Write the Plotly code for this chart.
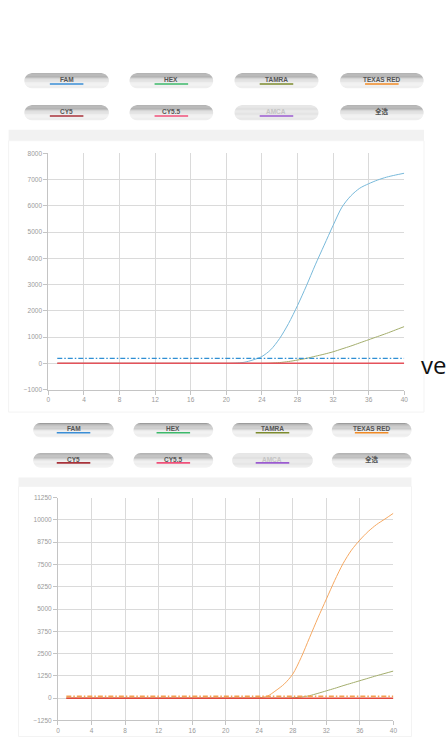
import math
import plotly.graph_objects as go

W, H = 448, 740

# ---------------- data ----------------
cycles = list(range(1, 41))

# upper chart
fam_top = [0, 0, 0, 0, 0, 0, 0, 0, 0, 0, 0, 0, 0, 0, 0, 0, 0, 0, 0, 0,
           10, 40, 130, 260, 520, 950, 1520, 2200, 2950, 3750,
           4500, 5250, 5950, 6380, 6670, 6840, 6980, 7090, 7170, 7240]
tamra_top = [0, 0, 0, 0, 0, 0, 0, 0, 0, 0, 0, 0, 0, 0, 0, 0, 0, 0, 0, 0,
             0, 0, 0, 0, 10, 30, 70, 125, 190, 270,
             350, 440, 550, 660, 780, 900, 1020, 1140, 1270, 1400]
cy5_top = [0, 0, 0, 0, 0, 0, 0, 0, 0, 0, 0, 0, 0, 0, 0, 0, 0, 0, 0, 0,
           0, 0, 0, 0, 0, 0, 0, 0, 0, 0, 0, 0, 0, 0, 0, 0, 0, 0, 0, 0]
thr_x = [1, 40]
thr_top = [190, 190]

# lower chart
texas_bot = [0, 0, 0, 0, 0, 0, 0, 0, 0, 0, 0, 0, 0, 0, 0, 0, 0, 0, 0, 0,
             0, 0, 0, 20, 120, 430, 800, 1350, 2280, 3390,
             4500, 5550, 6600, 7550, 8300, 8870, 9350, 9740, 10050, 10370]
tamra_bot = [0, 0, 0, 0, 0, 0, 0, 0, 0, 0, 0, 0, 0, 0, 0, 0, 0, 0, 0, 0,
             0, 0, 0, 0, 0, 0, 0, 20, 60, 140,
             270, 410, 550, 700, 840, 980, 1120, 1260, 1390, 1520]
cy5_bot = [0, 0, 0, 0, 0, 0, 0, 0, 0, 0, 0, 0, 0, 0, 0, 0, 0, 0, 0, 0,
           0, 0, 0, 0, 0, 0, 0, 0, 0, 0, 0, 0, 0, 0, 0, 0, 0, 0, 0, 0]
thr_bot = [100, 100]

x_ticks = [0, 4, 8, 12, 16, 20, 24, 28, 32, 36, 40]
y_ticks_top = [-1000, 0, 1000, 2000, 3000, 4000, 5000, 6000, 7000, 8000]
y_ticks_bot = [-1250, 0, 1250, 2500, 3750, 5000, 6250, 7500, 8750, 10000, 11250]

channels = ["FAM", "HEX", "TAMRA", "TEXAS RED", "CY5", "CY5.5", "AMCA", "全选"]
channel_colors = ["#3a8ed6", "#3cb96a", "#7d8b2e", "#f08a24",
                  "#a8323a", "#f0507a", "#9b5bd0", None]

# ---------------- helpers ----------------
def px(x):
    return x / W


def py(y):
    return 1 - y / H


shapes = []
annotations = []


def pill(x0, x1, y0, y1, disabled=False, n=12):
    r = (y1 - y0) / 2
    cy = (y0 + y1) / 2
    for i in range(n):
        ya = y0 + (y1 - y0) * i / n
        yb = y0 + (y1 - y0) * (i + 1) / n
        t = (i + 0.5) / n
        if disabled:
            g = int(222 + 12 * t)
        else:
            g = int(150 + (238 - 150) * min(1.0, t / 0.6))
        col = f"rgb({g},{g},{g})"
        pts = []
        for k in range(5):
            y = ya + (yb - ya) * k / 4
            d = math.sqrt(max(0.0, r * r - (y - cy) ** 2))
            pts.append((x0 + r - d, y))
        for k in range(5):
            y = yb - (yb - ya) * k / 4
            d = math.sqrt(max(0.0, r * r - (y - cy) ** 2))
            pts.append((x1 - r + d, y))
        path = "M " + " L ".join(f"{px(a):.5f},{py(b):.5f}" for a, b in pts) + " Z"
        shapes.append(dict(type="path", path=path, xref="paper", yref="paper",
                           fillcolor=col, line=dict(width=0), layer="below"))


def button_block(cols, rows, text_dy, line_dy):
    idx = 0
    for (ry0, ry1) in rows:
        for (cx0, cx1) in cols:
            name = channels[idx]
            color = channel_colors[idx]
            disabled = name == "AMCA"
            pill(cx0, cx1, ry0, ry1, disabled)
            cx = (cx0 + cx1) / 2
            annotations.append(dict(
                x=px(cx), y=py(ry0 + text_dy), xref="paper", yref="paper",
                text=f"<b>{name}</b>", showarrow=False, xanchor="center", yanchor="middle",
                font=dict(size=6.5, color="#c4c4c4" if disabled else "#555555",
                          family="Liberation Sans, Noto Sans CJK SC")))
            if color:
                shapes.append(dict(type="line", xref="paper", yref="paper",
                                   x0=px(cx - 17), x1=px(cx + 17),
                                   y0=py(ry0 + line_dy), y1=py(ry0 + line_dy),
                                   line=dict(color=color, width=1.6)))
            idx += 1


# first button block
button_block(cols=[(22.7, 108.3), (129.3, 214.0), (235.7, 320.7), (342.7, 427.3)],
             rows=[(70.0, 85.0), (102.3, 117.3)], text_dy=6.5, line_dy=10.7)
# second button block
button_block(cols=[(31.7, 113.3), (133.3, 214.0), (233.3, 315.0), (334.3, 415.0)],
             rows=[(423.0, 437.5), (453.5, 468.0)], text_dy=6.0, line_dy=9.8)

# gray bands and cards
shapes.append(dict(type="rect", xref="paper", yref="paper", x0=px(6.7), x1=px(427.7),
                   y0=py(138), y1=py(127), fillcolor="#f2f2f2", line=dict(width=0), layer="below"))
shapes.append(dict(type="rect", xref="paper", yref="paper", x0=px(6.7), x1=px(427.7),
                   y0=py(412), y1=py(138), fillcolor="#ffffff",
                   line=dict(color="#f3f3f3", width=1), layer="below"))
shapes.append(dict(type="rect", xref="paper", yref="paper", x0=px(16.7), x1=px(415),
                   y0=py(487), y1=py(478), fillcolor="#f2f2f2", line=dict(width=0), layer="below"))
shapes.append(dict(type="rect", xref="paper", yref="paper", x0=px(16.7), x1=px(415),
                   y0=py(739.5), y1=py(487), fillcolor="#ffffff",
                   line=dict(color="#f3f3f3", width=1), layer="below"))

annotations.append(dict(x=px(423), y=py(364), xref="paper", yref="paper", text="ve",
                        showarrow=False, xanchor="left", yanchor="middle",
                        font=dict(size=24, color="#111111", family="Open Sans")))

# ---------------- traces ----------------
fig = go.Figure()
sp = dict(shape="spline", smoothing=0.8)

# upper chart
fig.add_trace(go.Scatter(x=cycles, y=fam_top, mode="lines", xaxis="x", yaxis="y",
                         line=dict(color="#78b9da", width=1, **sp), name="FAM"))
fig.add_trace(go.Scatter(x=cycles, y=tamra_top, mode="lines", xaxis="x", yaxis="y",
                         line=dict(color="#a3ad6c", width=1, **sp), name="TAMRA"))
fig.add_trace(go.Scatter(x=thr_x, y=thr_top, mode="lines", xaxis="x", yaxis="y",
                         line=dict(color="#2f8fd4", width=1.3, dash="5px,2px,1.5px,2px"),
                         name="FAM threshold"))
fig.add_trace(go.Scatter(x=cycles, y=cy5_top, mode="lines", xaxis="x", yaxis="y",
                         line=dict(color="#e5525b", width=1.5), name="CY5"))

# lower chart
fig.add_trace(go.Scatter(x=cycles, y=texas_bot, mode="lines", xaxis="x2", yaxis="y2",
                         line=dict(color="#f5a862", width=1, **sp), name="TEXAS RED"))
fig.add_trace(go.Scatter(x=cycles, y=tamra_bot, mode="lines", xaxis="x2", yaxis="y2",
                         line=dict(color="#a3ad6c", width=1, **sp), name="TAMRA"))
fig.add_trace(go.Scatter(x=cycles, y=cy5_bot, mode="lines", xaxis="x2", yaxis="y2",
                         line=dict(color="#e0463f", width=1.5), name="CY5"))
fig.add_trace(go.Scatter(x=thr_x, y=thr_bot, mode="lines", xaxis="x2", yaxis="y2",
                         line=dict(color="#f5a050", width=1.6, dash="5px,2px,1.5px,2px"),
                         name="TEXAS RED threshold"))

tick_font = dict(size=6.5, color="#9a9a9a", family="Liberation Sans")
axis_common = dict(showgrid=True, gridcolor="#dadada", gridwidth=1, zeroline=False,
                   showline=True, linecolor="#c4c4c4", linewidth=1,
                   ticks="outside", ticklen=4, tickcolor="#c4c4c4", tickfont=tick_font,
                   tickformat="d", fixedrange=True)

fig.update_layout(
    width=W, height=H,
    margin=dict(l=0, r=0, t=0, b=0),
    paper_bgcolor="#ffffff", plot_bgcolor="rgba(0,0,0,0)",
    showlegend=False,
    xaxis=dict(domain=[px(47.0), px(407.7)], range=[0, 40], tickvals=x_ticks,
               anchor="y", **axis_common),
    yaxis=dict(domain=[py(389.3), py(150.7)], range=[-1000, 8000], tickvals=y_ticks_top,
               anchor="x", **axis_common),
    xaxis2=dict(domain=[px(56.7), px(396.7)], range=[0, 40], tickvals=x_ticks,
                anchor="y2", **axis_common),
    yaxis2=dict(domain=[py(723.3), py(498.3)], range=[-1250, 11250], tickvals=y_ticks_bot,
                anchor="x2", **axis_common),
    shapes=shapes,
    annotations=annotations,
)

fig.write_html(
    "out.html",
    config={"displayModeBar": False},
    post_script="document.body.style.margin='0';document.body.style.overflow='hidden';",
)
